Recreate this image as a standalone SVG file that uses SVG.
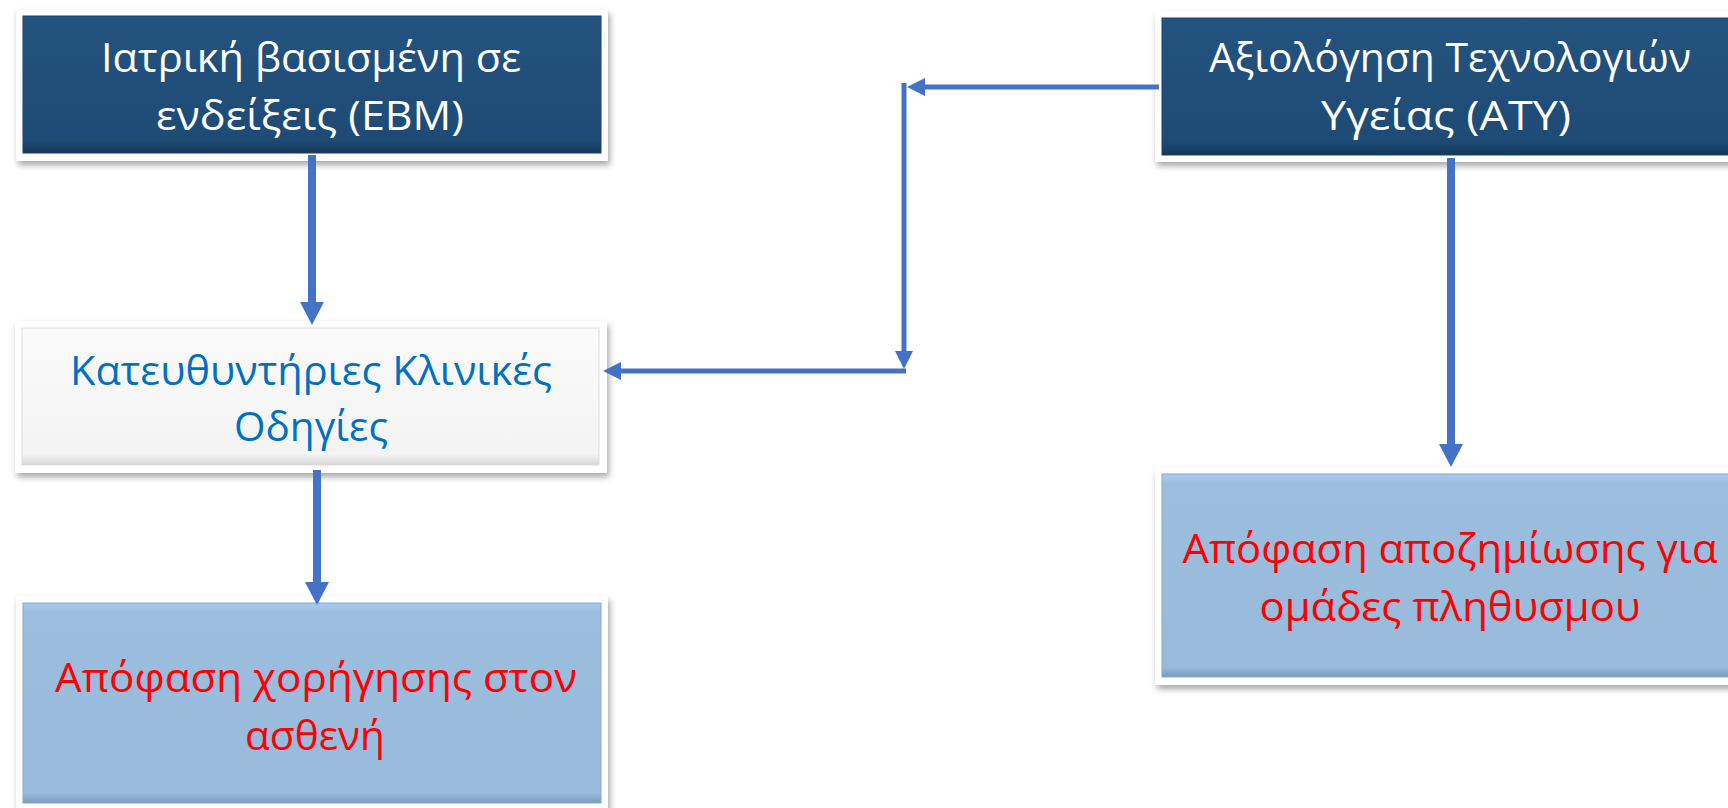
<svg xmlns="http://www.w3.org/2000/svg" width="1728" height="808" viewBox="0 0 1728 808">
<defs>
<filter id="sh" x="-10%" y="-10%" width="120%" height="130%">
<feGaussianBlur in="SourceAlpha" stdDeviation="3"/>
<feOffset dx="2" dy="4" result="b"/>
<feComponentTransfer><feFuncA type="linear" slope="0.35"/></feComponentTransfer>
<feMerge><feMergeNode/><feMergeNode in="SourceGraphic"/></feMerge>
</filter>
<linearGradient id="gDark" x1="0" y1="0" x2="0" y2="1">
<stop offset="0" stop-color="#24537F"/><stop offset="0.9" stop-color="#1E4B75"/><stop offset="1" stop-color="#15385A"/>
</linearGradient>
<linearGradient id="gGray" x1="0" y1="0" x2="0" y2="1">
<stop offset="0" stop-color="#FAFAFA"/><stop offset="0.92" stop-color="#F4F4F4"/><stop offset="1" stop-color="#D6D6D6"/>
</linearGradient>
<linearGradient id="gBlue" x1="0" y1="0" x2="0" y2="1">
<stop offset="0" stop-color="#A6CBEF"/><stop offset="0.05" stop-color="#9BBEDF"/><stop offset="0.95" stop-color="#98BBDC"/><stop offset="1" stop-color="#7A9BBD"/>
</linearGradient>
<marker id="aThick" markerUnits="userSpaceOnUse" markerWidth="23" markerHeight="24" refX="0" refY="12" orient="auto">
<path d="M0,0 L23,12 L0,24 z" fill="#4472C4"/>
</marker>
<marker id="aThin" markerUnits="userSpaceOnUse" markerWidth="18" markerHeight="18" refX="0" refY="9" orient="auto">
<path d="M0,0 L18,9 L0,18 z" fill="#4472C4"/>
</marker>
<style>
.frame{fill:#FFFFFF;filter:url(#sh)}
.dark{fill:url(#gDark);stroke:#1A4268;stroke-width:1}
.gray{fill:url(#gGray);stroke:#DDDDDD;stroke-width:1}
.blue{fill:url(#gBlue);stroke:#86A8C8;stroke-width:1}
text{font-family:"Open Sans","Noto Sans","DejaVu Sans",sans-serif;font-size:40px;text-anchor:middle}
.tw{fill:#FFFFFF}
.tb{fill:#0070C0}
.tr{fill:#FF0000}
.c{fill:none;stroke:#4472C4}
.thick{stroke-width:8;marker-end:url(#aThick)}
.thin{stroke-width:5;marker-end:url(#aThin)}
</style>
</defs>
<g id="node-ebm">
<rect class="frame" x="16" y="9" width="592" height="152"/>
<rect class="dark" x="23" y="16" width="578" height="137"/>
<text class="tw" x="311" y="72" textLength="420" lengthAdjust="spacingAndGlyphs">Ιατρική βασισμένη σε</text>
<text class="tw" x="310" y="130" textLength="308" lengthAdjust="spacingAndGlyphs">ενδείξεις (EBM)</text>
</g>
<g id="node-guidelines">
<rect class="frame" x="15" y="321" width="592" height="152"/>
<rect class="gray" x="22" y="328" width="577" height="137"/>
<text class="tb" x="311" y="385" textLength="482" lengthAdjust="spacingAndGlyphs">Κατευθυντήριες Κλινικές</text>
<text class="tb" x="311" y="441" textLength="154" lengthAdjust="spacingAndGlyphs">Οδηγίες</text>
</g>
<g id="node-patient">
<rect class="frame" x="16" y="596" width="592" height="216"/>
<rect class="blue" x="23" y="603" width="578" height="200"/>
<text class="tr" x="316" y="692" textLength="522" lengthAdjust="spacingAndGlyphs">Απόφαση χορήγησης στον</text>
<text class="tr" x="315" y="750" textLength="140" lengthAdjust="spacingAndGlyphs">ασθενή</text>
</g>
<g id="node-hta">
<rect class="frame" x="1155" y="11" width="600" height="151"/>
<rect class="dark" x="1162" y="18" width="590" height="137"/>
<text class="tw" x="1450" y="72" textLength="482" lengthAdjust="spacingAndGlyphs">Αξιολόγηση Τεχνολογιών</text>
<text class="tw" x="1446" y="130" textLength="250" lengthAdjust="spacingAndGlyphs">Υγείας (ΑΤΥ)</text>
</g>
<g id="node-reimbursement">
<rect class="frame" x="1155" y="467" width="600" height="218"/>
<rect class="blue" x="1162" y="474" width="590" height="203"/>
<text class="tr" x="1450" y="563" textLength="535" lengthAdjust="spacingAndGlyphs">Απόφαση αποζημίωσης για</text>
<text class="tr" x="1450" y="621" textLength="381" lengthAdjust="spacingAndGlyphs">ομάδες πληθυσμου</text>
</g>
<g id="connectors">
<path class="c thick" d="M312 155 V302"/>
<path class="c thick" d="M317 470 V582"/>
<path class="c thin" d="M1159 87 H925"/>
<path class="c thin" d="M904 83 V351"/>
<path class="c thin" d="M906 371 H621"/>
<path class="c thick" d="M1451 158 V444"/>
</g>
</svg>
